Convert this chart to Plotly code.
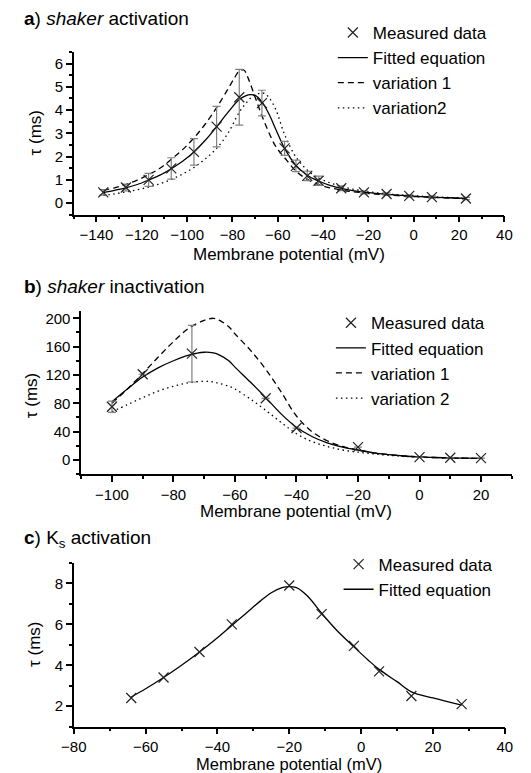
import plotly.graph_objects as go

# ---------------- a) shaker activation ----------------
va_meas = [-137, -127, -117, -107, -97, -87, -77, -67, -57, -52, -47, -42, -32, -22, -12, -2, 8, 23]
ta_meas = [0.46, 0.67, 1.0, 1.49, 2.2, 3.29, 4.55, 4.3, 2.35, 1.6, 1.17, 0.96, 0.64, 0.46, 0.39, 0.31, 0.26, 0.2]
ta_err = [0.12, 0.15, 0.28, 0.46, 0.57, 0.87, 1.2, 0.55, 0.3, 0.25, 0.2, 0.2, 0.1, 0.06, 0.05, 0.05, 0.05, 0.05]

va_fit = [-137, -132, -127, -122, -117, -112, -107, -102, -97, -92, -87, -82, -77, -74, -72, -70,
          -67, -64, -61, -57, -52, -47, -42, -37, -32, -27, -22, -17, -12, -7, -2, 3, 8, 13, 18, 23]
ta_fit = [0.45, 0.55, 0.66, 0.8, 0.99, 1.2, 1.48, 1.8, 2.2, 2.7, 3.28, 3.9, 4.45, 4.62, 4.66, 4.63,
          4.35, 3.85, 3.2, 2.35, 1.62, 1.2, 0.95, 0.76, 0.63, 0.54, 0.47, 0.42, 0.38, 0.34, 0.31, 0.28, 0.26, 0.24, 0.22, 0.2]

va_var1 = [-137, -132, -127, -122, -117, -112, -107, -102, -97, -92, -87, -82, -79, -77, -75, -73, -70,
           -67, -64, -61, -57, -52, -47, -42, -37, -32, -27, -22, -17, -12, -7, -2, 3, 8, 13, 18, 23]
ta_var1 = [0.55, 0.66, 0.8, 0.99, 1.22, 1.5, 1.88, 2.3, 2.8, 3.4, 4.1, 4.9, 5.4, 5.68, 5.72, 5.35, 4.55,
           3.75, 3.05, 2.45, 1.95, 1.38, 1.02, 0.8, 0.66, 0.56, 0.49, 0.44, 0.39, 0.35, 0.32, 0.29, 0.27, 0.25, 0.23, 0.21, 0.2]

va_var2 = [-137, -132, -127, -122, -117, -112, -107, -102, -97, -92, -87, -82, -77, -74, -71, -68, -66,
           -64, -61, -57, -52, -47, -42, -37, -32, -27, -22, -17, -12, -7, -2, 3, 8, 13, 18, 23]
ta_var2 = [0.33, 0.4, 0.48, 0.57, 0.69, 0.83, 1.02, 1.25, 1.53, 1.9, 2.35, 3.0, 3.9, 4.3, 4.6, 4.72, 4.72,
           4.55, 4.05, 2.95, 1.98, 1.42, 1.08, 0.87, 0.72, 0.6, 0.52, 0.45, 0.4, 0.36, 0.33, 0.3, 0.27, 0.25, 0.23, 0.22]

# ---------------- b) shaker inactivation ----------------
vb_meas = [-100, -90, -74, -50, -40, -20, 0, 10, 20]
tb_meas = [75, 121, 150, 87, 45, 18, 4, 3, 2.5]
tb_err = [8, 0, 40, 0, 0, 0, 0, 0, 0]

vb_grid = [-100, -95, -90, -85, -80, -75, -70, -67, -65, -62, -60, -55, -50, -45, -40, -35, -30,
           -25, -20, -15, -10, -5, 0, 5, 10, 15, 20]
tb_fit = [82, 100, 117, 130, 140, 148, 152, 151, 148, 140, 131, 110, 88, 65, 46, 33, 24,
          18, 14, 10, 7.5, 5.5, 4.2, 3.4, 2.8, 2.4, 2.1]
tb_var1 = [80, 100, 122, 145, 167, 186, 197, 200, 197, 188, 178, 155, 128, 96, 62, 40, 27,
           19, 14, 10, 7.5, 5.5, 4.2, 3.4, 2.8, 2.4, 2.1]
tb_var2 = [68, 78, 88, 97, 104, 109, 111, 110, 108, 104, 100, 86, 70, 53, 37, 26, 19,
           14, 11, 8.5, 6.5, 5, 4, 3.3, 2.8, 2.4, 2.1]

# ---------------- c) Ks activation ----------------
vc_meas = [-64, -55, -45, -36, -20, -11, -2, 5, 14, 28]
tc_meas = [2.4, 3.4, 4.65, 6.0, 7.9, 6.5, 4.95, 3.7, 2.5, 2.1]

vc_fit = [-64, -60, -55, -50, -45, -40, -36, -32, -28, -25, -22, -20, -18, -15, -11, -7, -2, 2, 5, 10, 14, 20, 28]
tc_fit = [2.45, 2.85, 3.4, 4.0, 4.65, 5.35, 5.95, 6.55, 7.15, 7.55, 7.8, 7.85, 7.8, 7.4, 6.55, 5.75, 4.9, 4.25, 3.8, 3.2, 2.7, 2.4, 2.05]

FONT = "Arial, Liberation Sans, sans-serif"
W, H = 531, 773

fig = go.Figure()


def add_line(x, y, name, dash, xa, ya, leg, rank):
    fig.add_trace(go.Scatter(
        x=x, y=y, mode="lines", name=name, line=dict(color="black", width=1.3, dash=dash, shape="spline"),
        xaxis=xa, yaxis=ya, legend=leg, legendrank=rank))


def add_points(x, y, err, xa, ya, leg):
    fig.add_trace(go.Scatter(
        x=x, y=y, mode="markers", name="Measured data",
        marker=dict(symbol="x-thin-open", size=10, color="#222", line=dict(width=1.2, color="#222")),
        error_y=dict(type="data", array=err, visible=err is not None, color="#808080", thickness=1.2, width=4),
        xaxis=xa, yaxis=ya, legend=leg, legendrank=1))


DASH = "6px,4px"
DOT = "1.5px,3.5px"

# panel a
add_line(va_fit, ta_fit, "Fitted equation", "solid", "x", "y", "legend", 2)
add_line(va_var1, ta_var1, "variation 1", DASH, "x", "y", "legend", 3)
add_line(va_var2, ta_var2, "variation2", DOT, "x", "y", "legend", 4)
add_points(va_meas, ta_meas, ta_err, "x", "y", "legend")

# panel b
add_line(vb_grid, tb_fit, "Fitted equation", "solid", "x2", "y2", "legend2", 2)
add_line(vb_grid, tb_var1, "variation 1", DASH, "x2", "y2", "legend2", 3)
add_line(vb_grid, tb_var2, "variation 2", DOT, "x2", "y2", "legend2", 4)
add_points(vb_meas, tb_meas, tb_err, "x2", "y2", "legend2")

# panel c
add_line(vc_fit, tc_fit, "Fitted equation", "solid", "x3", "y3", "legend3", 2)
add_points(vc_meas, tc_meas, None, "x3", "y3", "legend3")


def px_x(p):
    return p / W


def px_y(p):
    return 1 - p / H


TICKFONT = dict(family=FONT, size=15, color="black")


def xaxis(dom, rng, dtick, minor, anchor):
    return dict(domain=[px_x(dom[0]), px_x(dom[1])], range=rng, anchor=anchor,
                showline=True, linecolor="black", linewidth=1.5, mirror=False,
                showgrid=False, zeroline=False, ticks="outside", ticklen=6, tickwidth=1.5,
                tickcolor="black", tick0=0, dtick=dtick,
                minor=dict(dtick=minor, ticks="outside", ticklen=3, tickwidth=1.5, tickcolor="black", showgrid=False),
                tickfont=TICKFONT)


def yaxis(dom, rng, dtick, minor, anchor):
    return dict(domain=[px_y(dom[1]), px_y(dom[0])], range=rng, anchor=anchor,
                showline=True, linecolor="black", linewidth=1.5, mirror=False,
                showgrid=False, zeroline=False, ticks="outside", ticklen=6, tickwidth=1.5,
                tickcolor="black", tick0=0, dtick=dtick,
                minor=dict(dtick=minor, ticks="outside", ticklen=3, tickwidth=1.5, tickcolor="black", showgrid=False),
                tickfont=TICKFONT)


# plot boxes in pixels: (left, right), (top, bottom)
A_X, A_Y = (63.3, 511.7), (50, 213.3)
B_X, B_Y = (71, 519.3), (310, 473.3)
C_X, C_Y = (63.3, 512), (562.5, 726.5)


def legend_box(x, y):
    return dict(x=px_x(x), y=px_y(y), xanchor="left", yanchor="top", bgcolor="rgba(0,0,0,0)",
                font=dict(family=FONT, size=17, color="black"), tracegroupgap=0, traceorder="normal")


annotations = []


def label(text, x, y, size, angle=0, xanchor="center"):
    annotations.append(dict(text=text, x=px_x(x), y=px_y(y), xref="paper", yref="paper",
                            showarrow=False, xanchor=xanchor, yanchor="middle", textangle=angle,
                            font=dict(family=FONT, size=size, color="black")))


label("<b>a</b>) <i>shaker</i> activation", 9, 17, 19, xanchor="left")
label("<b>b</b>) <i>shaker</i> inactivation", 9, 285, 19, xanchor="left")
label("<b>c</b>) K<sub>s</sub> activation", 9, 538, 19, xanchor="left")

label("Membrane potential (mV)", sum(A_X) / 2, 253, 17)
label("Membrane potential (mV)", sum(B_X) / 2, 511, 17)
label("Membrane potential (mV)", sum(C_X) / 2, 763.5, 16.5)
label("τ (ms)", 23, sum(A_Y) / 2, 17, angle=-90)
label("τ (ms)", 20, 395, 17, angle=-90)
label("τ (ms)", 23, sum(C_Y) / 2, 17, angle=-90)

fig.update_layout(
    width=W, height=H, margin=dict(l=0, r=0, t=0, b=0),
    paper_bgcolor="white", plot_bgcolor="white",
    font=dict(family=FONT, color="black"),
    xaxis=xaxis(A_X, [-150, 40], 20, 10, "y"),
    yaxis=yaxis(A_Y, [-0.5, 6.5], 1, 0.5, "x"),
    xaxis2=xaxis(B_X, [-110, 30], 20, 10, "y2"),
    yaxis2=yaxis(B_Y, [-20, 210], 40, 20, "x2"),
    xaxis3=xaxis(C_X, [-80, 40], 20, 10, "y3"),
    yaxis3=yaxis(C_Y, [1, 9], 2, 1, "x3"),
    legend=legend_box(333, 13),
    legend2=legend_box(331, 304),
    legend3=legend_box(339, 546),
    annotations=annotations,
    showlegend=True,
)

fig.write_html("out.html", post_script="document.body.style.margin='0';")
